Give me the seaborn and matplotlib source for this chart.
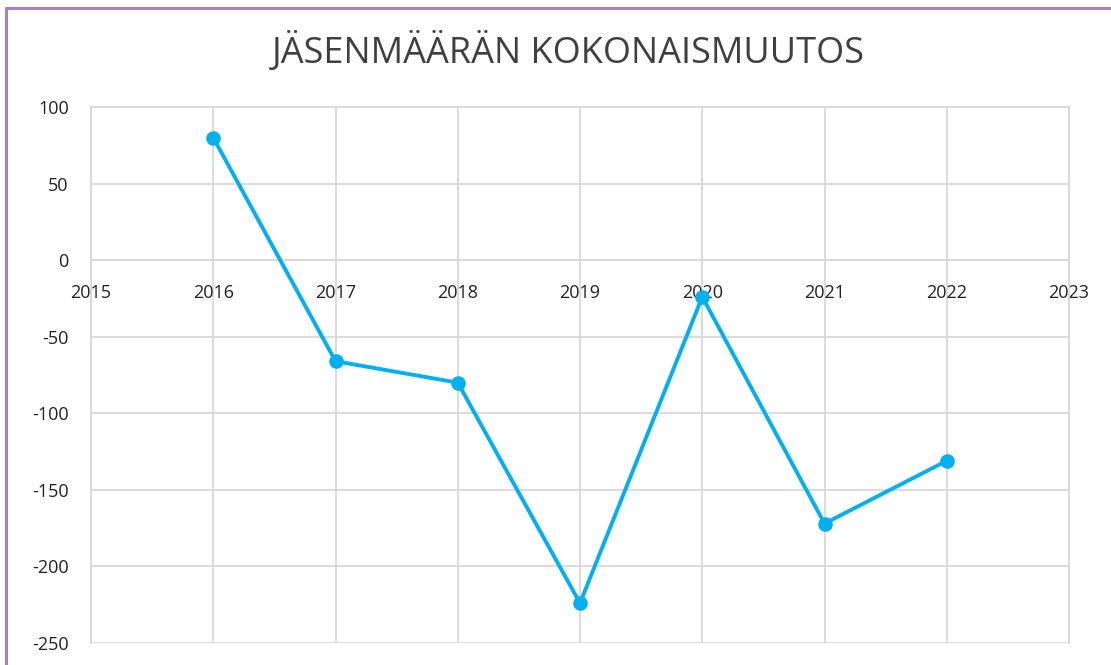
import matplotlib
matplotlib.use("Agg")
import matplotlib.pyplot as plt
import seaborn as sns
import pandas as pd

# Données
vuodet = [2016, 2017, 2018, 2019, 2020, 2021, 2022]
muutos = [80, -66, -80, -224, -24, -172, -131]
x_ticks = list(range(2015, 2024))
y_ticks = [100, 50, 0, -50, -100, -150, -200, -250]

df = pd.DataFrame({"vuosi": vuodet, "muutos": muutos})

sns.set_style("white")
plt.rcParams["font.family"] = ["Open Sans", "DejaVu Sans"]

fig = plt.figure(figsize=(11.11, 6.65), dpi=100)
ax = fig.add_axes([91 / 1111, 1 - 643 / 665, (1069 - 91) / 1111, (643 - 107) / 665])

sns.lineplot(data=df, x="vuosi", y="muutos", ax=ax, color="#00b0f0",
             linewidth=2.8, marker="o", markersize=10.5, markeredgewidth=0, zorder=3)

# axe horizontal à 0 comme dans Excel (avant de régler les ticks)
for s in ["top", "right", "left", "bottom"]:
    ax.spines[s].set_color("#d9d9d9")
    ax.spines[s].set_linewidth(1.3)
ax.spines["bottom"].set_position(("data", 0))

ax.set_xlim(2015, 2023)
ax.set_ylim(-250, 100)
ax.set_xticks(x_ticks)
ax.set_yticks(y_ticks)
ax.set_xticklabels([str(v) for v in x_ticks])
ax.set_yticklabels([str(v) for v in y_ticks])
ax.grid(True, color="#d9d9d9", linewidth=1.3)
ax.set_xlabel("")
ax.set_ylabel("")
ax.tick_params(axis="both", length=0, labelsize=13, labelcolor="#222222")
ax.tick_params(axis="x", pad=17)
ax.tick_params(axis="y", pad=16)

fig.text(568 / 1111, 1 - 52 / 665, "JÄSENMÄÄRÄN KOKONAISMUUTOS", ha="center", va="center",
         fontsize=26, color="#404040")

# bordure violette du cadre
fig.add_artist(plt.Line2D([6 / 1111, 1], [1 - 8 / 665, 1 - 8 / 665], color="#9b86c2", linewidth=2.2))
fig.add_artist(plt.Line2D([6 / 1111, 6 / 1111], [0, 1 - 8 / 665], color="#9b86c2", linewidth=2.2))

plt.savefig("out.png", dpi=100)
plt.close()
